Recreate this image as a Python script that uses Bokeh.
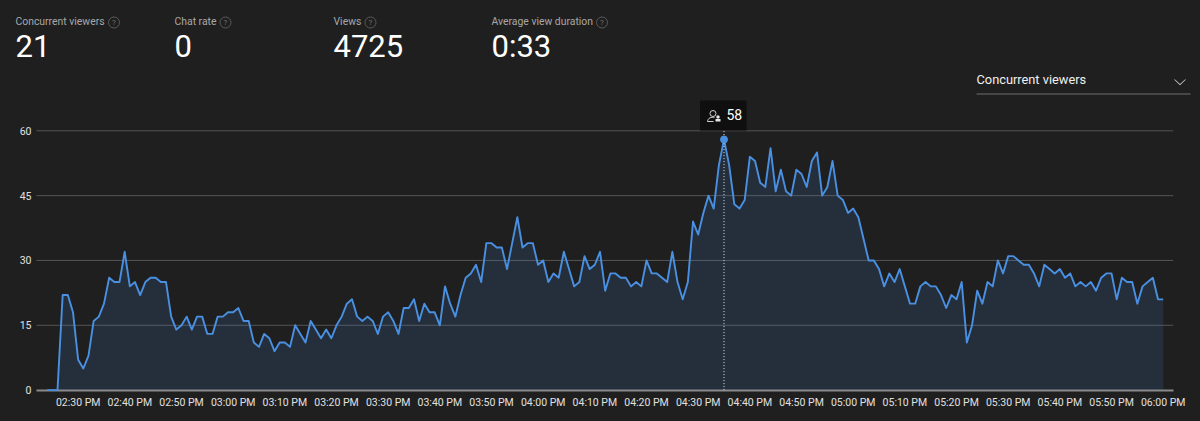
from bokeh.plotting import figure
from bokeh.models import FixedTicker, Label, BoxAnnotation, PolyAnnotation
from bokeh.embed import file_html
from bokeh.resources import INLINE

# --- data ---
start_minute = 14 * 60 + 24
viewers = [
    0, 0, 0, 22, 22, 18, 7, 5, 8, 16, 17, 20, 26, 25, 25, 32, 24, 25, 22, 25, 26, 26, 25, 25, 17,
    14, 15, 17, 14, 17, 17, 13, 13, 17, 17, 18, 18, 19, 16, 16, 11, 10, 13, 12, 9, 11, 11, 10, 15,
    13, 11, 16, 14, 12, 14, 12, 15, 17, 20, 21, 17, 16, 17, 16, 13, 17, 18, 16, 13, 19, 19, 21, 16,
    20, 18, 18, 15, 24, 20, 17, 22, 26, 27, 29, 25, 34, 34, 33, 33, 28, 34, 40, 33, 34, 34, 29, 30,
    25, 27, 26, 32, 28, 24, 25, 31, 28, 29,
    32, 23, 27, 27, 26, 26, 24, 25, 24, 30, 27, 27, 26, 25, 32, 25, 21, 25, 39, 36, 41, 45, 42, 52,
    58, 52, 43, 42, 44, 54, 53, 48, 47, 56, 46, 51, 46, 45, 51, 50, 47, 53, 55, 45, 47, 53, 45, 44,
    41, 42, 40, 35, 30, 30, 28, 24, 27, 25,
    28, 24, 20, 20, 24, 25, 24, 24, 22, 19, 22, 21, 25, 11, 15, 23, 20, 25, 24, 30, 27, 31, 31, 30,
    29, 29, 27, 24, 29, 28, 27, 28, 26, 27, 24, 25, 24, 25, 23, 26, 27, 27, 21, 26, 25, 25, 20, 24,
    25, 26, 21, 21,
]
minutes = [start_minute + i for i in range(len(viewers))]
tick_minutes = [870 + 10 * k for k in range(22)]
tick_labels = ["02:30 PM", "02:40 PM", "02:50 PM", "03:00 PM", "03:10 PM", "03:20 PM", "03:30 PM",
               "03:40 PM", "03:50 PM", "04:00 PM", "04:10 PM", "04:20 PM", "04:30 PM", "04:40 PM",
               "04:50 PM", "05:00 PM", "05:10 PM", "05:20 PM", "05:30 PM", "05:40 PM", "05:50 PM",
               "06:00 PM"]
y_ticks = [0, 15, 30, 45, 60]
metric_names = ["Concurrent viewers", "Chat rate", "Views", "Average view duration"]
metric_values = ["21", "0", "4725", "0:33"]

# --- layout (page pixels) ---
BG = "#1f1f1f"
BLUE = "#4a90e2"
FONT = "Roboto"
W, H = 1200, 421
BASE = 389.6
PLOT_L, PLOT_R = 36, 1172.7
PX_PER_MIN = (1162.7 - 46.67) / 216
PX_PER_UNIT = (BASE - 130.3) / 60


def X(px):
    return start_minute + (px - 46.67) / PX_PER_MIN


def Y(py):
    return (BASE - py) / PX_PER_UNIT


def text_label(px, baseline_py, text, size, color, align="left"):
    # Labels in this backend sit about 0.39 em under the requested alphabetic baseline
    return Label(x=X(px), y=Y(baseline_py - 0.39 * size), text=text, text_color=color, text_font=FONT,
                 text_font_size=f"{size}px", text_align=align, text_baseline="alphabetic")


p = figure(width=W, height=H, output_backend="svg", toolbar_location=None,
           x_range=(X(0), X(W)), y_range=(Y(H), Y(0)),
           min_border_left=0, min_border_right=0, min_border_top=0, min_border_bottom=0,
           background_fill_color=BG, border_fill_color=BG, outline_line_color=None)

p.xgrid.visible = False
p.ygrid.visible = False

p.xaxis.fixed_location = 0
p.xaxis.level = "underlay"
p.xaxis.ticker = FixedTicker(ticks=tick_minutes)
p.xaxis.major_label_overrides = dict(zip(tick_minutes, tick_labels))
p.xaxis.bounds = (X(PLOT_L), X(PLOT_R))
p.xaxis.axis_line_color = "#8a8a8a"
p.xaxis.axis_line_width = 2
p.xaxis.major_tick_line_color = None
p.xaxis.minor_tick_line_color = None
p.xaxis.major_tick_in = 0
p.xaxis.major_tick_out = 0
p.xaxis.major_label_text_color = "#e0e0e0"
p.xaxis.major_label_text_font = FONT
p.xaxis.major_label_text_font_size = "10.5px"
p.xaxis.major_label_standoff = 6

p.yaxis.fixed_location = X(PLOT_L)
p.yaxis.ticker = FixedTicker(ticks=y_ticks)
p.yaxis.bounds = (0, 60)
p.yaxis.axis_line_color = None
p.yaxis.major_tick_line_color = None
p.yaxis.minor_tick_line_color = None
p.yaxis.major_tick_in = 0
p.yaxis.major_tick_out = 0
p.yaxis.major_label_text_color = "#e0e0e0"
p.yaxis.major_label_text_font = FONT
p.yaxis.major_label_text_font_size = "10.5px"
p.yaxis.major_label_standoff = 5

# horizontal rules, ending where the plot area ends
rules = [t for t in y_ticks if t > 0]
p.segment(x0=[X(PLOT_L)] * len(rules), x1=[X(PLOT_R)] * len(rules), y0=rules, y1=rules,
          line_color="#555555", line_width=1, level="underlay")

# area + line
p.varea(x=minutes, y1=[0] * len(viewers), y2=viewers, fill_color=BLUE, fill_alpha=0.15)
p.line(minutes, viewers, line_color=BLUE, line_width=1.9, line_join="round")

# hover marker
peak = max(viewers)
peak_x = minutes[viewers.index(peak)]
p.line([peak_x, peak_x], [0, Y(130.5)], line_color="#e6e6e6", line_width=1, line_dash=[1, 2])
p.scatter([peak_x], [peak], size=7, marker="circle", fill_color=BLUE, line_color=BLUE)

# tooltip box and icon
p.quad(left=[X(699.5)], right=[X(746)], top=[Y(100)], bottom=[Y(130)], fill_color="#0f0f0f", line_color=None)
p.scatter([X(712.5)], [Y(113)], size=6, marker="circle", fill_color=None, line_color="#d0d0d0", line_width=1)
p.bezier(x0=[X(707)], y0=[Y(121)], x1=[X(714)], y1=[Y(117)], cx0=[X(707.5)], cy0=[Y(117)],
         cx1=[X(711)], cy1=[Y(116.5)], line_color="#d0d0d0", line_width=1)
p.line([X(707), X(713)], [Y(121), Y(121)], line_color="#d0d0d0", line_width=1)
p.scatter([X(717.5)], [Y(116.5)], size=3.5, marker="circle", fill_color="#e6e6e6", line_color=None)
p.quad(left=[X(715)], right=[X(720)], top=[Y(118.5)], bottom=[Y(121)], fill_color="#e6e6e6", line_color=None)
p.add_layout(text_label(726, 119, str(peak), 14, "#ffffff"))

# header metrics
metric_x = [15, 174, 333, 491]
icon_x = [113.5, 225, 370, 601.5]
for name, value, mx, ix in zip(metric_names, metric_values, metric_x, icon_x):
    p.add_layout(text_label(mx, 25, name, 10.4, "#a8a8a8"))
    p.add_layout(text_label(mx, 58, value, 31, "#ffffff"))
    p.scatter([X(ix)], [Y(22)], size=11, marker="circle", fill_color=None, line_color="#5a5a5a", line_width=1)
    p.add_layout(text_label(ix, 25, "?", 8, "#6e6e6e", align="center"))

# dropdown
p.add_layout(text_label(976, 83.5, "Concurrent viewers", 12.8, "#f0f0f0"))
p.add_layout(BoxAnnotation(left=X(976), right=X(1190), top=Y(93), bottom=Y(94), fill_color="#6e6e6e",
                           fill_alpha=1, line_color=None))
p.add_layout(PolyAnnotation(
    xs=[X(1174), X(1179.5), X(1185), X(1185), X(1179.5), X(1174)],
    ys=[Y(78.5), Y(83.5), Y(78.5), Y(79.5), Y(84.7), Y(79.5)],
    fill_color="#c8c8c8", fill_alpha=1, line_color=None))

html = file_html(p, INLINE)
html = html.replace("<head>", "<head><style>html,body{background:#1f1f1f;}</style>", 1)
open("out.html", "w").write(html)
